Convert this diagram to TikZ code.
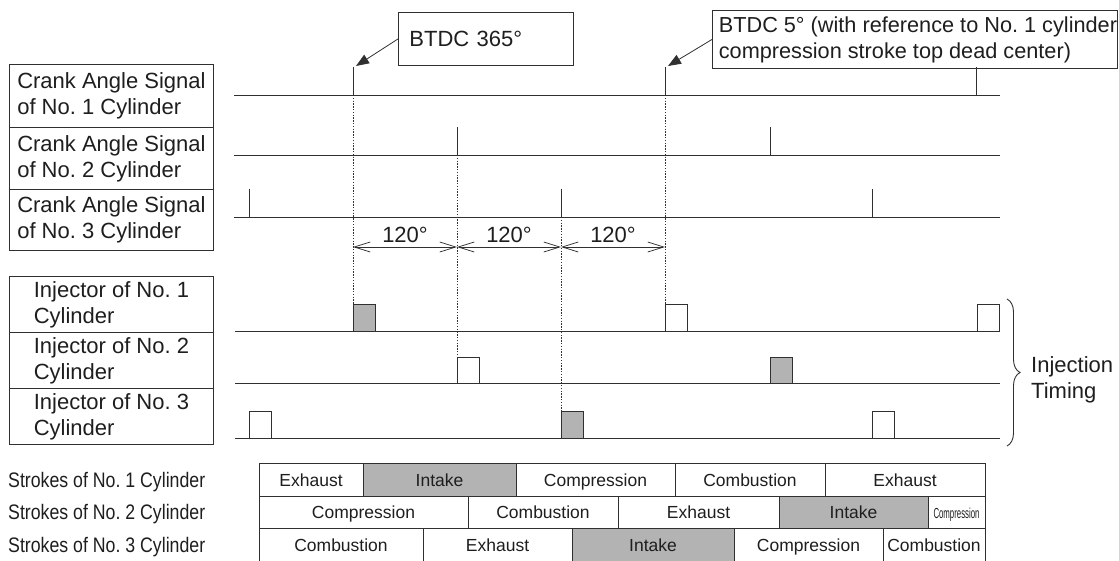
\documentclass[tikz,border=0pt]{standalone}
\usepackage{fontspec}
\usepackage{graphicx}
\setmainfont{Liberation Sans}
\usetikzlibrary{arrows.meta,decorations.pathreplacing}
\definecolor{ink}{HTML}{1E1E1E}
\definecolor{wire}{HTML}{303030}
\definecolor{shade}{HTML}{B3B3B3}
\frenchspacing
% narrow "Compression" squeezed into the short last cell of row 2
\newcommand\smallcomp{\resizebox{46pt}{\height}{\fontsize{14.5}{14.5}\selectfont Compression}}
% condensed row captions of the stroke table
\newcommand\strokelabel[1]{\resizebox{197pt}{\height}{\fontsize{21}{21}\selectfont Strokes of No. #1 Cylinder}}

\begin{document}
\begin{tikzpicture}[x=1pt,y=-1pt,
  every node/.style={text=ink},
  font=\fontsize{22}{26}\selectfont,
  lblbox/.style={draw=wire, line width=0.9pt, minimum width=204pt, align=left, inner sep=0pt, anchor=north west},
  notebox/.style={draw=wire, line width=0.9pt, anchor=north west, inner sep=0pt},
  sig/.style={draw=wire, line width=1pt},
  tickmark/.style={draw=wire, line width=0.9pt},
  guide/.style={draw=wire, line width=0.9pt, dash pattern=on 1.4pt off 1.4pt},
  pulse/.style={draw=wire, line width=1pt, fill=white},
  pulseon/.style={pulse, fill=shade},
  dimline/.style={draw=wire, line width=0.75pt, {Straight Barb[length=16pt,width=10pt]}-{Straight Barb[length=16pt,width=10pt]}},
  leader/.style={draw=wire, line width=0.8pt, -{Triangle[length=13pt,width=10pt]}},
  cell/.style={draw=wire, line width=0.9pt, inner sep=0pt, text height=14pt, text depth=1pt, font=\fontsize{17.5}{20}\selectfont}]
\useasboundingbox (0,0) rectangle (1119,560);

% ---- signal captions ----
\node[lblbox, minimum height=63pt] (crank1) at (9,64) {Crank Angle Signal\\of No. 1 Cylinder};
\node[lblbox, minimum height=62pt] (crank2) at (9,127) {Crank Angle Signal\\of No. 2 Cylinder};
\node[lblbox, minimum height=61pt] (crank3) at (9,189) {Crank Angle Signal\\of No. 3 Cylinder};
\node[lblbox, minimum height=56pt] (inj1) at (9,276) {Injector of No. 1\\Cylinder};
\node[lblbox, minimum height=56pt] (inj2) at (9,332) {Injector of No. 2\\Cylinder};
\node[lblbox, minimum height=56pt] (inj3) at (9,388) {Injector of No. 3\\Cylinder};

% ---- base lines ----
\foreach \y [count=\i] in {95,155,217} {
  \coordinate (cs\i) at (234,\y); \coordinate (ce\i) at (1000,\y);
  \draw[sig] (cs\i) -- (ce\i);
}
\foreach \y [count=\i] in {331,383,438} {
  \coordinate (is\i) at (235,\y); \coordinate (ie\i) at (1000,\y);
  \draw[sig] (is\i) -- (ie\i);
}

% ---- crank angle pulses ----
\foreach \x in {353,665,976} \draw[tickmark] (\x,95) -- (\x,67);
\foreach \x in {457,770} \draw[tickmark] (\x,155) -- (\x,127);
\foreach \x in {249,561,872} \draw[tickmark] (\x,217) -- (\x,189);

% ---- dotted guides ----
\draw[guide] (353,95) -- (353,304);
\draw[guide] (457,155) -- (457,356);
\draw[guide] (561,217) -- (561,411);
\draw[guide] (665,95) -- (665,304);

% ---- 120 degree spacing ----
\coordinate (d0) at (353,247);
\coordinate (d1) at (457,247);
\coordinate (d2) at (561,247);
\coordinate (d3) at (665,247);
\draw[dimline] (d0) -- (d1);
\draw[dimline] (d1) -- (d2);
\draw[dimline] (d2) -- (d3);
\node[anchor=base, inner sep=0pt] (ang1) at (405,242) {120°};
\node[anchor=base, inner sep=0pt] (ang2) at (509,242) {120°};
\node[anchor=base, inner sep=0pt] (ang3) at (613,242) {120°};

% ---- injection pulses ----
\draw[pulseon] (353,331) rectangle ++(22,-27);
\draw[pulse]   (665,331) rectangle ++(22,-27);
\draw[pulse]   (977,331) rectangle ++(22,-27);
\draw[pulse]   (457,383) rectangle ++(22,-26);
\draw[pulseon] (770,383) rectangle ++(22,-26);
\draw[pulse]   (249,438) rectangle ++(22,-27);
\draw[pulseon] (561,438) rectangle ++(22,-27);
\draw[pulse]   (872,438) rectangle ++(22,-27);

% ---- callouts ----
\node[notebox, minimum width=175pt, minimum height=53pt, text width=153pt, inner xsep=11pt, align=left] (btdc365) at (398,12) {BTDC 365°};
\node[notebox, minimum width=405pt, minimum height=58pt, align=left, font=\fontsize{21.7}{26}\selectfont] (btdc5) at (712,10) {\hspace*{6pt}BTDC 5° (with reference to No. 1 cylinder\\\hspace*{6pt}compression stroke top dead center)};
\coordinate (tip365) at (356,66);
\coordinate (tip5) at (668,66);
\draw[leader] (btdc365.west) -- (tip365);
\draw[leader] (btdc5.west) -- (tip5);

% ---- injection timing brace ----
\coordinate (brtop) at (1007,299);
\coordinate (brbot) at (1007,446);
\draw[draw=wire, line width=0.9pt, decorate, decoration={brace, amplitude=13pt}] (brtop) -- (brbot);
\node[anchor=west, align=left, inner sep=0pt] (injtiming) at (1031,380) {Injection\\Timing};

% ---- stroke table ----
\node[anchor=base west, inner sep=0pt] (stk1) at (8,487) {\strokelabel{1}};
\node[anchor=base west, inner sep=0pt] (stk2) at (8,519) {\strokelabel{2}};
\node[anchor=base west, inner sep=0pt] (stk3) at (8,552) {\strokelabel{3}};

\foreach \xa/\xb/\txt/\fc [count=\i] in {259/363/Exhaust/white, 363/516/Intake/shade, 516/675/Compression/white, 675/825/Combustion/white, 825/985/Exhaust/white}
  \node[cell, fill=\fc, minimum width={\xb-\xa}, minimum height=33pt] (ra\i) at ({(\xa+\xb)/2},479.5) {\txt};
\foreach \xa/\xb/\txt/\fc [count=\i] in {259/468/Compression/white, 468/618/Combustion/white, 618/779/Exhaust/white, 779/928/Intake/shade, 928/985/\smallcomp/white}
  \node[cell, fill=\fc, minimum width={\xb-\xa}, minimum height=32pt] (rb\i) at ({(\xa+\xb)/2},512) {\txt};
\foreach \xa/\xb/\txt/\fc [count=\i] in {259/423/Combustion/white, 423/572/Exhaust/white, 572/734/Intake/shade, 734/883/Compression/white, 883/985/Combustion/white}
  \node[cell, fill=\fc, minimum width={\xb-\xa}, minimum height=33pt] (rc\i) at ({(\xa+\xb)/2},544.5) {\txt};
\end{tikzpicture}
\end{document}
